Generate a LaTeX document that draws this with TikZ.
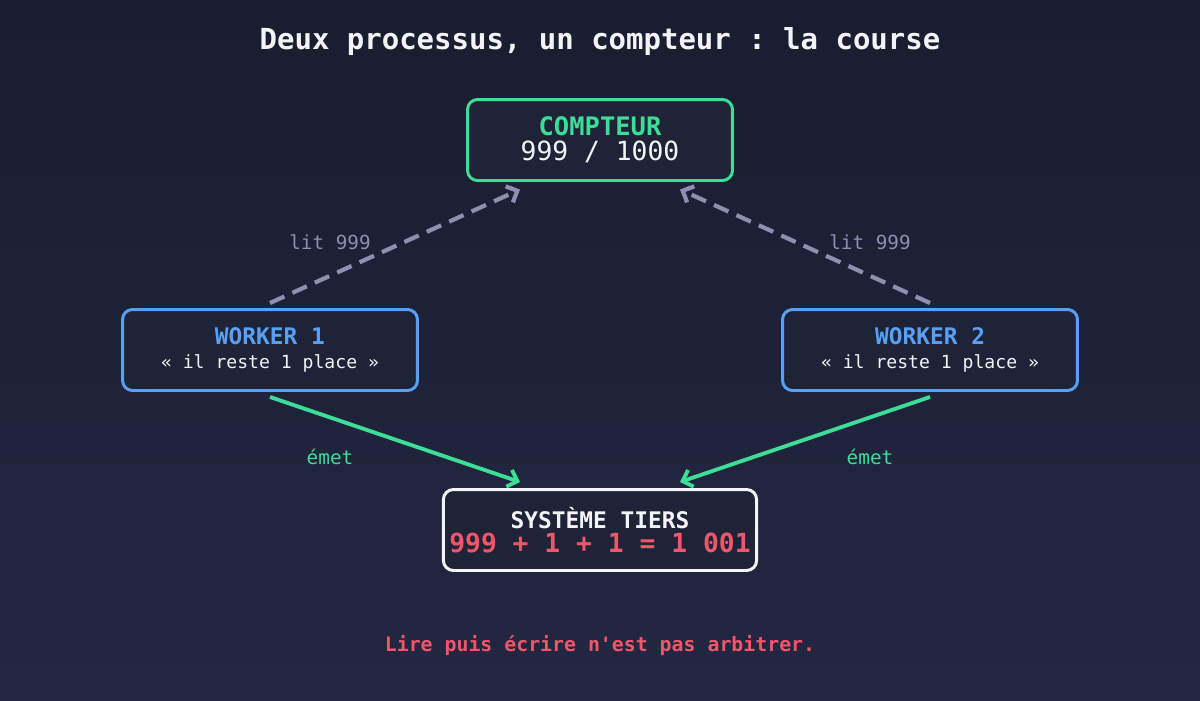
\documentclass[tikz,border=0pt]{standalone}
\usepackage{fontspec}
\setmonofont{DejaVu Sans Mono}
\usetikzlibrary{positioning, calc, arrows.meta}
\definecolor{bgtop}{HTML}{191D2F}
\definecolor{bgbot}{HTML}{232742}
\definecolor{boxfill}{HTML}{1E2338}
\definecolor{cgreen}{HTML}{3DDC97}
\definecolor{cblue}{HTML}{58A0F5}
\definecolor{cred}{HTML}{F0566A}
\definecolor{cgray}{HTML}{8A90B0}
\definecolor{cwhite}{HTML}{F2F4F8}
\tikzset{
  box/.style={draw, line width=1.7pt, rounded corners=0.2cm, fill=boxfill, minimum width=5.3cm, minimum height=1.62cm, align=center, font=\ttfamily},
  lire/.style={draw=cgray, line width=2.4pt, dash pattern=on 9pt off 5pt, -{Straight Barb[length=5pt,width=10pt]}},
  emet/.style={draw=cgreen, line width=2.2pt, -{Straight Barb[length=5pt,width=10pt]}},
  lbl/.style={font=\ttfamily\fontsize{11}{13}\selectfont}
}
\begin{document}
\begin{tikzpicture}[x=0.02cm, y=-0.02cm]
	\shade[top color=bgtop, bottom color=bgbot] (0,0) rectangle (1200,700);
	\useasboundingbox (0,0) rectangle (1200,700);
	\node (titre) at (600,42) [text=cwhite, font=\ttfamily\bfseries\fontsize{16.5}{19}\selectfont] {Deux processus, un compteur : la course};
	\node (cpt) at (600,140) [box, draw=cgreen] {{\color{cgreen}\bfseries\fontsize{14.5}{16}\selectfont COMPTEUR}\\[2pt]{\color{cwhite}\fontsize{15}{17}\selectfont 999 / 1000}};
	\node (w1) at (270,350) [box, draw=cblue, minimum width=5.9cm] {{\color{cblue}\bfseries\fontsize{13}{15}\selectfont WORKER 1}\\[2pt]{\color{cwhite}\fontsize{10.3}{12}\selectfont « il reste 1 place »}};
	\node (w2) at (930,350) [box, draw=cblue, minimum width=5.9cm] {{\color{cblue}\bfseries\fontsize{13}{15}\selectfont WORKER 2}\\[2pt]{\color{cwhite}\fontsize{10.3}{12}\selectfont « il reste 1 place »}};
	\node (tiers) at (600,530) [box, draw=cwhite] {{\color{cwhite}\bfseries\fontsize{13}{15}\selectfont SYSTÈME TIERS}\\[2pt]{\color{cred}\bfseries\fontsize{15}{17}\selectfont 999 + 1 + 1 = 1 001}};
	\node (morale) at (600,645) [text=cred, font=\ttfamily\bfseries\fontsize{11.3}{13}\selectfont] {Lire puis écrire n'est pas arbitrer.};

	\draw[lire] ([yshift=0.1cm]w1.north) to ([xshift=-1.6cm,yshift=-0.15cm]cpt.south);
	\draw[lire] ([yshift=0.1cm]w2.north) to ([xshift=1.6cm,yshift=-0.15cm]cpt.south);
	\draw[emet] ([yshift=-0.1cm]w1.south) to ([xshift=-1.6cm,yshift=0.12cm]tiers.north);
	\draw[emet] ([yshift=-0.1cm]w2.south) to ([xshift=1.6cm,yshift=0.12cm]tiers.north);

	\node (l1) at (330,242) [lbl, text=cgray] {lit 999};
	\node (l2) at (870,242) [lbl, text=cgray] {lit 999};
	\node (e1) at (330,457) [lbl, text=cgreen] {émet};
	\node (e2) at (870,457) [lbl, text=cgreen] {émet};
\end{tikzpicture}
\end{document}
